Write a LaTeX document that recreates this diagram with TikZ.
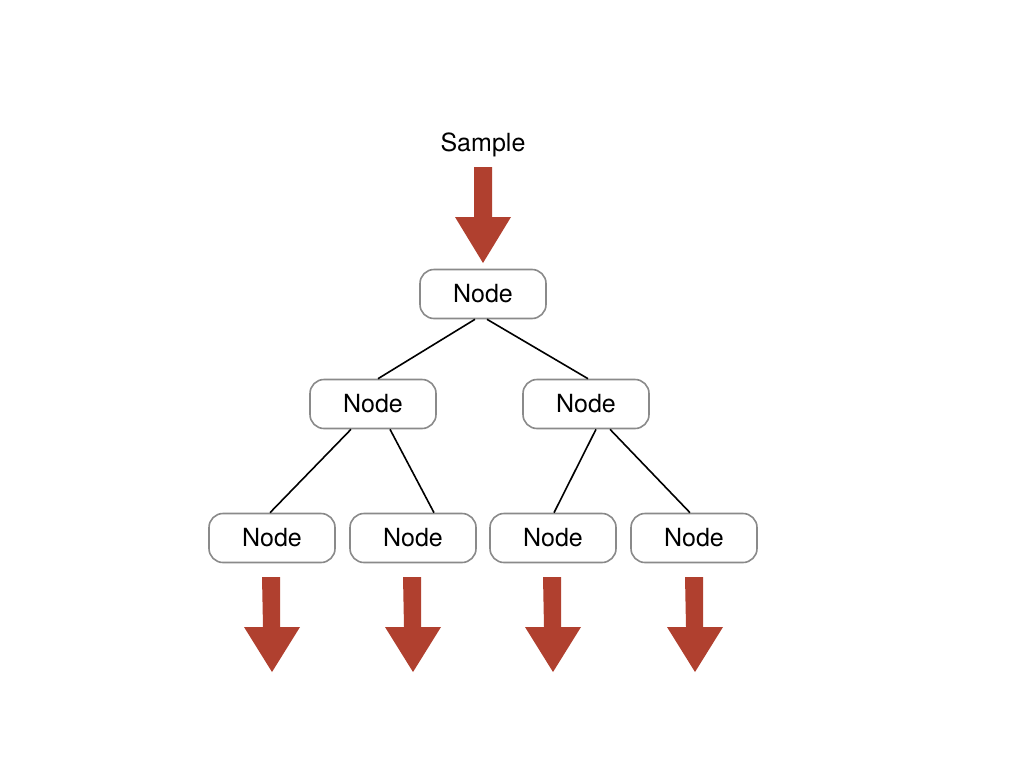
\documentclass[tikz,border=0pt]{standalone}
\usepackage{fontspec}
\setmainfont{TeX Gyre Heros}
\definecolor{arrowred}{HTML}{B0402F}
\definecolor{boxgray}{HTML}{8A8A8A}
\begin{document}
\begin{tikzpicture}[x=1pt,y=-1pt,
  treenode/.style={draw=boxgray, line width=1.6pt, rounded corners=14pt, minimum width=126pt, minimum height=49pt, fill=white, font=\fontsize{25}{28}\selectfont, inner sep=0pt},
  edge/.style={draw=black, line width=1.6pt},
  bigarrow/.style={fill=arrowred, draw=none},
  lbl/.style={font=\fontsize{25}{28}\selectfont, inner sep=0pt}]
\useasboundingbox (0,0) rectangle (1024,768);
\fill[white] (0,0) rectangle (1024,768);
\node[lbl] (sample) at (483,145) {Sample};
\node[treenode] (root) at (483,294) {Node};
\node[treenode] (l) at (373,404) {Node};
\node[treenode] (r) at (586,404) {Node};
\node[treenode] (ll) at (272,538) {Node};
\node[treenode] (lr) at (413,538) {Node};
\node[treenode] (rl) at (553,538) {Node};
\node[treenode] (rr) at (694,538) {Node};
\draw[edge] ([xshift=-8pt]root.south) -- ([xshift=5pt]l.north);
\draw[edge] ([xshift=4pt]root.south) -- ([xshift=2pt]r.north);
\draw[edge] ([xshift=-22pt]l.south) -- ([xshift=-2pt]ll.north);
\draw[edge] ([xshift=17pt]l.south) -- ([xshift=21pt]lr.north);
\draw[edge] ([xshift=10pt]r.south) -- ([xshift=1pt]rl.north);
\draw[edge] ([xshift=24pt]r.south) -- ([xshift=-4pt]rr.north);
% top arrow
\path[bigarrow] (474,167) -- (492,167) -- (492,217) -- (511,217) -- (483,263) -- (455,217) -- (474,217) -- cycle;
% bottom arrows
\foreach \cx in {272,413,553,695}{
  \path[bigarrow] (\cx-10,577) -- (\cx+8,577) -- (\cx+8,627) -- (\cx+28,627) -- (\cx,672) -- (\cx-28,627) -- (\cx-9,627) -- cycle;
}
\end{tikzpicture}
\end{document}
